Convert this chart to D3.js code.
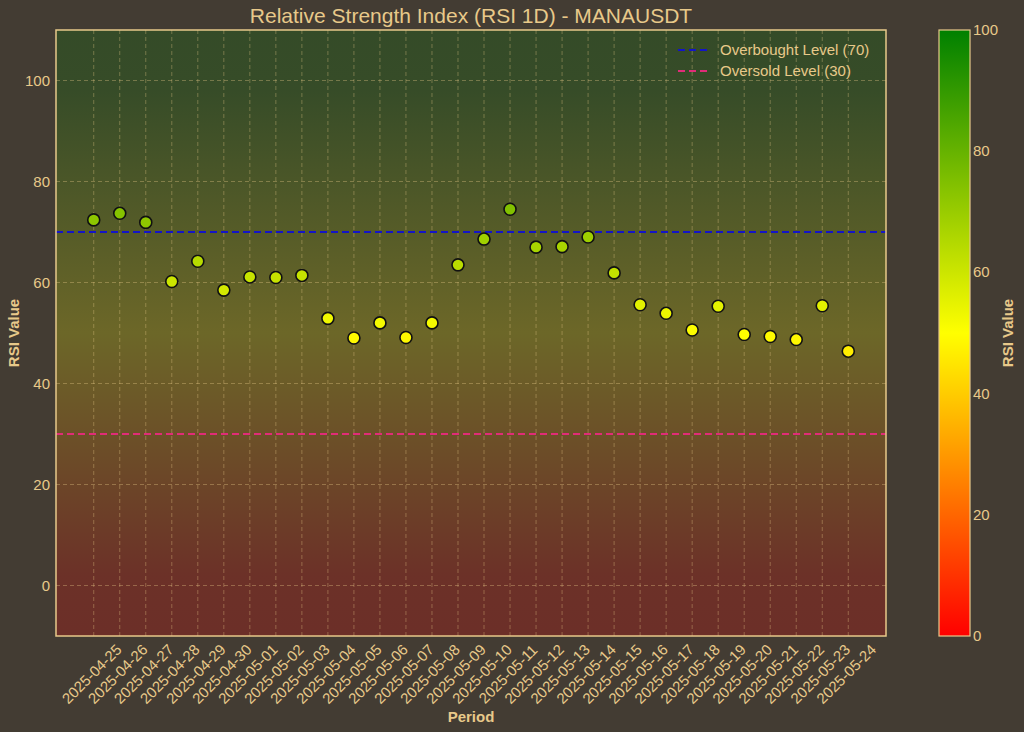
<!DOCTYPE html>
<html><head><meta charset="utf-8">
<script src="https://cdn.jsdelivr.net/npm/d3@7"></script>
<style>body{margin:0;background:#433c33;}text{font-family:"Liberation Sans",Arial,sans-serif;}</style>
</head><body>
<svg id="c" width="1024" height="732"></svg>
<script>
const dates = ["2025-04-25","2025-04-26","2025-04-27","2025-04-28","2025-04-29","2025-04-30","2025-05-01","2025-05-02","2025-05-03","2025-05-04","2025-05-05","2025-05-06","2025-05-07","2025-05-08","2025-05-09","2025-05-10","2025-05-11","2025-05-12","2025-05-13","2025-05-14","2025-05-15","2025-05-16","2025-05-17","2025-05-18","2025-05-19","2025-05-20","2025-05-21","2025-05-22","2025-05-23","2025-05-24"];
const rsi = [72.4,73.7,71.9,60.2,64.2,58.5,61.1,61.0,61.4,52.9,49.0,52.0,49.1,52.0,63.5,68.6,74.5,67.0,67.1,69.0,61.9,55.6,53.9,50.6,55.3,49.7,49.3,48.7,55.4,46.4];
const yTicks = [0,20,40,60,80,100];
const cbTicks = [0,20,40,60,80,100];
const levels = [{v:70,c:"#1414c8",label:"Overbought Level (70)"},{v:30,c:"#e02c78",label:"Oversold Level (30)"}];

const txt="#e8c98a", bg="#433c33";
const svg=d3.select("#c");
const L=56,R=886,T=30,B=636;
const x=d3.scaleLinear().domain([-1.45,dates.length-1+1.45]).range([L,R]);
const y=d3.scaleLinear().domain([-10,110]).range([B,T]);
const cmap=d3.scaleLinear().domain([0,50,100]).range(["#ff0000","#ffff00","#008000"]).clamp(true);
const defs=svg.append("defs");
const g1=defs.append("linearGradient").attr("id","bgG").attr("x1",0).attr("x2",0).attr("y1",0).attr("y2",1);
d3.range(0,11).forEach(i=>{const v=110-i*12;g1.append("stop").attr("offset",i/10).attr("stop-color",cmap(v));});
const g2=defs.append("linearGradient").attr("id","cbG").attr("x1",0).attr("x2",0).attr("y1",1).attr("y2",0);
[0,50,100].forEach(v=>g2.append("stop").attr("offset",v/100).attr("stop-color",cmap(v)));

svg.append("rect").attr("x",L).attr("y",T).attr("width",R-L).attr("height",B-T).attr("fill",bg);
svg.append("rect").attr("x",L).attr("y",T).attr("width",R-L).attr("height",B-T).attr("fill","url(#bgG)").attr("opacity",0.22);

const grid=svg.append("g").attr("stroke",txt).attr("stroke-opacity",0.45).attr("stroke-dasharray","4,3").attr("stroke-width",0.8);
dates.forEach((d,i)=>grid.append("line").attr("x1",x(i)).attr("x2",x(i)).attr("y1",T).attr("y2",B));
yTicks.forEach(v=>grid.append("line").attr("x1",L).attr("x2",R).attr("y1",y(v)).attr("y2",y(v)));

levels.forEach(l=>svg.append("line").attr("x1",L).attr("x2",R).attr("y1",y(l.v)).attr("y2",y(l.v)).attr("stroke",l.c).attr("stroke-width",2).attr("stroke-dasharray","7,4"));

svg.append("g").selectAll("circle").data(rsi).join("circle")
 .attr("cx",(d,i)=>x(i)).attr("cy",d=>y(d)).attr("r",6).attr("fill",d=>cmap(d)).attr("stroke","#111").attr("stroke-width",1.6);

svg.append("rect").attr("x",L).attr("y",T).attr("width",R-L).attr("height",B-T).attr("fill","none").attr("stroke",txt).attr("stroke-width",1.5);

yTicks.forEach(v=>svg.append("text").attr("x",L-6).attr("y",y(v)+5).attr("text-anchor","end").attr("font-size",15).attr("fill",txt).text(v));
dates.forEach((d,i)=>svg.append("text").attr("transform",`translate(${x(i)-2},${674}) rotate(-45)`).attr("text-anchor","middle").attr("dy","0.35em").attr("font-size",15).attr("fill",txt).text(d));

svg.append("text").attr("x",(L+R)/2).attr("y",23).attr("text-anchor","middle").attr("font-size",21).attr("fill",txt).text("Relative Strength Index (RSI 1D) - MANAUSDT");
svg.append("text").attr("x",(L+R)/2).attr("y",722).attr("text-anchor","middle").attr("font-size",15).attr("font-weight","bold").attr("fill",txt).text("Period");
svg.append("text").attr("transform",`translate(19,${(T+B)/2}) rotate(-90)`).attr("text-anchor","middle").attr("font-size",15).attr("font-weight","bold").attr("fill",txt).text("RSI Value");

levels.forEach((l,i)=>{const yy=50+i*21;
 svg.append("line").attr("x1",678).attr("x2",708).attr("y1",yy).attr("y2",yy).attr("stroke",l.c).attr("stroke-width",2).attr("stroke-dasharray","7,4");
 svg.append("text").attr("x",720).attr("y",yy+5).attr("font-size",15).attr("fill",txt).text(l.label);});

const cb=d3.scaleLinear().domain([0,100]).range([B,T]);
svg.append("rect").attr("x",939).attr("y",T).attr("width",31).attr("height",B-T).attr("fill","url(#cbG)").attr("stroke",txt).attr("stroke-width",1.2);
cbTicks.forEach(v=>svg.append("text").attr("x",973).attr("y",cb(v)+5).attr("font-size",15).attr("fill",txt).text(v));
svg.append("text").attr("transform",`translate(1013,${(T+B)/2}) rotate(-90)`).attr("text-anchor","middle").attr("font-size",15).attr("font-weight","bold").attr("fill",txt).text("RSI Value");
</script></body></html>
